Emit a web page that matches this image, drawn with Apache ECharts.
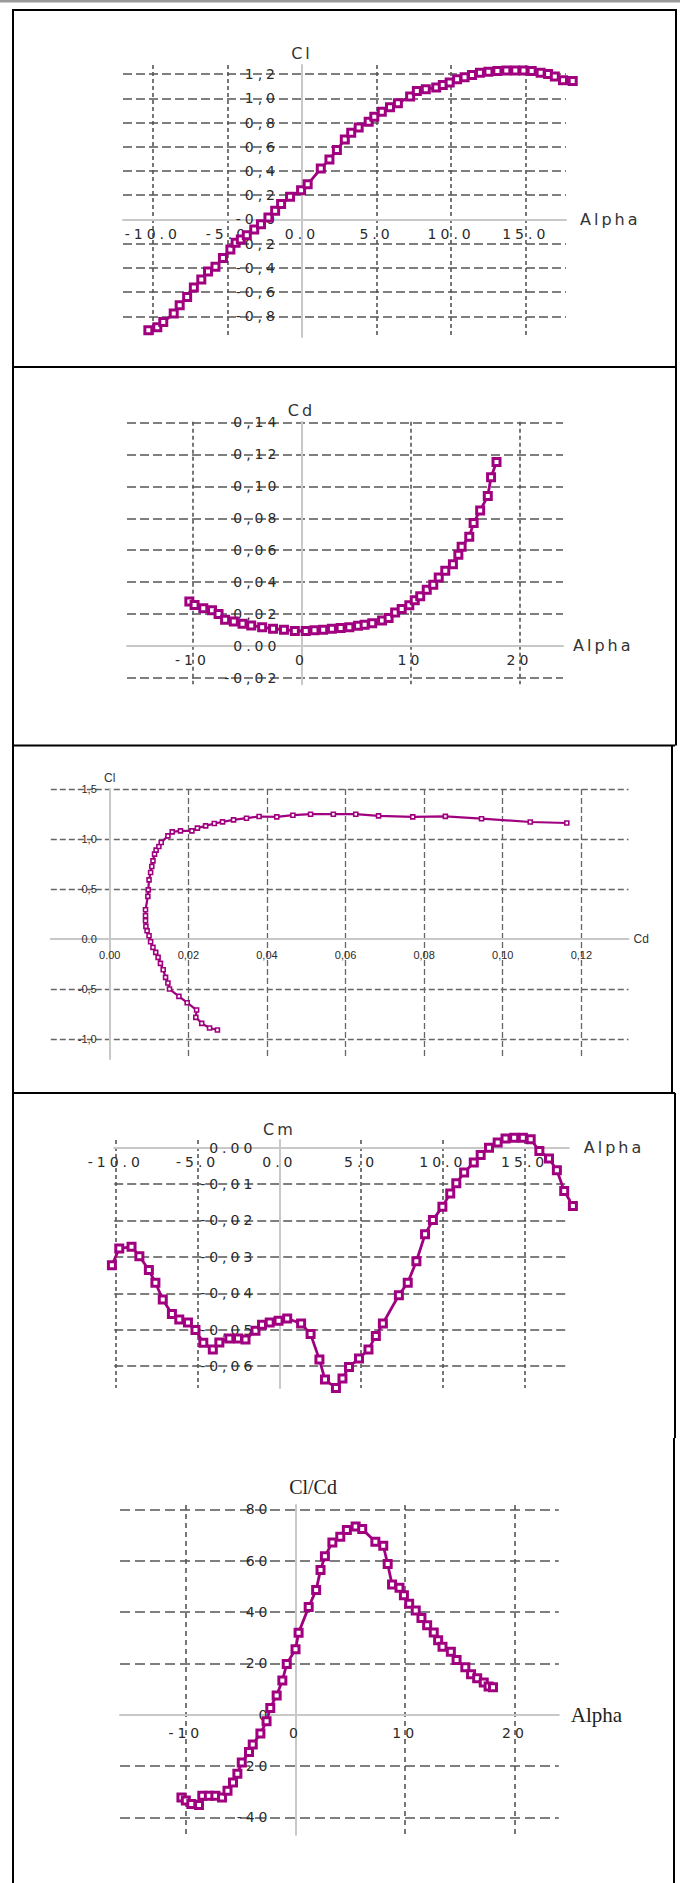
<!DOCTYPE html>
<html><head><meta charset="utf-8">
<script src="https://cdn.jsdelivr.net/npm/echarts@6/dist/echarts.min.js"></script>
<style>
html,body{margin:0;padding:0;background:#fff;}
#chart{width:680px;height:1883px;}
#chart text[style*="DejaVu Sans"]{letter-spacing:3px;}
#chart text[style*="14px"][style*="DejaVu Sans"]{letter-spacing:4px;}
</style></head><body><div id="chart"></div>
<script>
// ---- Panel 1: Cl vs Alpha ----
const clAlpha = [-10.3,-9.7,-9.3,-8.6,-8.2,-7.7,-7.25,-6.75,-6.3,-5.8,-5.3,-4.8,-4.45,-4.1,-3.7,-3.2,-2.75,-2.25,-1.8,-1.4,-0.8,-0.06,0.38,1.26,1.84,2.34,2.87,3.3,3.8,4.47,4.85,5.35,5.9,6.43,7.25,7.7,8.3,9.0,9.44,9.9,10.4,10.9,11.4,11.93,12.5,13.1,13.7,14.3,14.85,15.4,16.0,16.5,16.95,17.5,18.15];
const clValues = [-0.915,-0.89,-0.846,-0.777,-0.708,-0.64,-0.562,-0.496,-0.43,-0.39,-0.317,-0.248,-0.193,-0.165,-0.13,-0.083,-0.039,0.017,0.072,0.127,0.187,0.242,0.29,0.42,0.496,0.573,0.66,0.716,0.76,0.807,0.848,0.89,0.926,0.959,1.014,1.06,1.074,1.09,1.11,1.13,1.157,1.174,1.193,1.212,1.22,1.226,1.229,1.229,1.229,1.226,1.212,1.2,1.18,1.15,1.143];
// ---- Panel 2: Cd vs Alpha ----
const cdAlpha = [-10.28,-9.8,-9.0,-8.2,-7.6,-7.0,-6.2,-5.4,-4.6,-3.6,-2.6,-1.6,-0.6,0.4,1.2,2.0,2.8,3.6,4.4,5.2,5.8,6.5,7.4,8.0,8.6,9.2,9.9,10.4,10.9,11.5,12.1,12.6,13.2,13.9,14.4,14.7,15.4,15.8,16.4,17.1,17.4,17.9];
const cdValues = [0.0278,0.0257,0.0237,0.0224,0.0200,0.0165,0.0153,0.0139,0.0129,0.0118,0.0108,0.0102,0.0094,0.0094,0.0098,0.0102,0.0108,0.0112,0.0118,0.0127,0.0133,0.0143,0.0159,0.0176,0.0210,0.0231,0.0255,0.0286,0.0312,0.0353,0.0384,0.0429,0.0471,0.0512,0.0571,0.0622,0.0684,0.0771,0.0849,0.0939,0.1057,0.1153];
// ---- Panel 3: Cl vs Cd ----
const polarCd = [0.0274,0.0254,0.0234,0.0219,0.0221,0.0197,0.0176,0.0152,0.0148,0.0142,0.0136,0.0129,0.0123,0.0117,0.011,0.0104,0.01,0.0095,0.0092,0.0091,0.0091,0.0091,0.0097,0.0098,0.01,0.0104,0.0107,0.011,0.0114,0.0118,0.0125,0.0131,0.0148,0.0159,0.018,0.0209,0.0223,0.0244,0.0266,0.0287,0.0315,0.0348,0.038,0.0425,0.0466,0.0511,0.0569,0.0626,0.0684,0.0771,0.0854,0.0946,0.107,0.1163];
const polarCl = [-0.91,-0.89,-0.843,-0.783,-0.71,-0.637,-0.573,-0.5,-0.44,-0.383,-0.307,-0.243,-0.183,-0.133,-0.083,-0.027,0.033,0.083,0.127,0.183,0.233,0.293,0.427,0.493,0.593,0.667,0.727,0.783,0.85,0.89,0.927,0.967,1.033,1.073,1.083,1.083,1.11,1.133,1.157,1.173,1.193,1.21,1.227,1.223,1.24,1.25,1.25,1.25,1.233,1.223,1.228,1.205,1.172,1.162];
// ---- Panel 4: Cm vs Alpha ----
const cmAlpha = [-10.24,-9.79,-9.04,-8.56,-7.98,-7.58,-7.13,-6.57,-6.12,-5.59,-5.13,-4.65,-4.07,-3.67,-3.06,-2.53,-2.07,-1.46,-1.06,-0.59,-0.05,0.48,1.33,1.91,2.45,2.79,3.46,3.86,4.26,4.87,5.45,5.9,6.33,7.31,7.85,8.38,8.91,9.39,9.97,10.45,10.82,11.3,11.89,12.31,12.82,13.35,13.83,14.36,14.89,15.37,15.9,16.49,16.97,17.42,17.95];
const cmValues = [-0.0323,-0.0277,-0.0272,-0.0298,-0.0336,-0.0371,-0.0417,-0.0457,-0.0472,-0.048,-0.0501,-0.0536,-0.0554,-0.0535,-0.0524,-0.0524,-0.0527,-0.0503,-0.0486,-0.048,-0.0475,-0.0469,-0.0483,-0.0512,-0.0582,-0.0637,-0.066,-0.0634,-0.0602,-0.0579,-0.0554,-0.0517,-0.0483,-0.0405,-0.0371,-0.0312,-0.0238,-0.0199,-0.0162,-0.0126,-0.0098,-0.0068,-0.0041,-0.002,0.0,0.0014,0.0025,0.0027,0.0027,0.0023,-0.0009,-0.003,-0.0062,-0.0119,-0.016];
// ---- Panel 5: Cl/Cd vs Alpha ----
const ldAlpha = [-10.4,-10.0,-9.5,-8.8,-8.5,-7.9,-7.3,-6.7,-6.2,-5.7,-5.3,-4.9,-4.24,-3.9,-3.2,-2.64,-2.3,-1.72,-1.2,-0.8,0.0,0.28,1.2,1.88,2.28,2.68,3.36,4.08,4.68,5.48,6.08,7.28,8.0,8.4,8.8,9.48,9.88,10.36,10.96,11.48,12.0,12.6,13.0,13.4,14.16,14.68,15.48,16.0,16.56,17.16,17.6,18.0];
const ldValues = [-32.3,-33.5,-34.8,-35.2,-31.6,-31.6,-31.6,-32.3,-29.7,-26.5,-23.0,-18.7,-14.6,-11.6,-7.4,-2.6,2.6,7.5,13.3,19.7,25.5,31.9,41.9,48.6,56.4,61.7,67.1,69.3,72.0,73.3,72.3,67.4,65.8,58.7,50.7,49.4,46.5,43.2,40.6,37.7,34.8,32.0,29.0,26.5,24.5,21.3,18.5,15.7,14.2,12.5,11.0,10.7];

// ---- tick values ----
const p1XTicks = [-10, -5, 0, 5, 10, 15];
const p1YTicks = [-0.8, -0.6, -0.4, -0.2, 0, 0.2, 0.4, 0.6, 0.8, 1.0, 1.2];
const p2XTicks = [-10, 0, 10, 20];
const p2YTicks = [-0.02, 0, 0.02, 0.04, 0.06, 0.08, 0.10, 0.12, 0.14];
const p3XTicks = [0, 0.02, 0.04, 0.06, 0.08, 0.10, 0.12];
const p3YTicks = [-1.0, -0.5, 0, 0.5, 1.0, 1.5];
const p4XTicks = [-10, -5, 0, 5, 10, 15];
const p4YTicks = [-0.06, -0.05, -0.04, -0.03, -0.02, -0.01, 0];
const p5XTicks = [-10, 0, 10, 20];
const p5YTicks = [-40, -20, 0, 20, 40, 60, 80];

// ---- panel layout (grid boxes and axis extents) ----
const panels = [
  { box: { left: 123, top: 65, width: 443, height: 272 }, x: [-12, 17.7], y: [-0.97, 1.275] },
  { box: { left: 127, top: 421.7, width: 436, height: 262.6 }, x: [-16, 24], y: [-0.024, 0.1405] },
  { box: { left: 50.8, top: 789, width: 577.7, height: 270 }, x: [-0.015, 0.132], y: [-1.2, 1.502] },
  { box: { left: 114.2, top: 1140, width: 454.6, height: 248 }, x: [-10.1, 17.7], y: [-0.066, 0.0021] },
  { box: { left: 120, top: 1505, width: 438.8, height: 329.7 }, x: [-16, 24], y: [-46.8, 81.7] }
];

const PURPLE = '#a0007f';
const AXIS_GRAY = '#c8c8c8';
const noZero = a => a.filter(v => v !== 0);
const dotFmt = d => v => v.toFixed(d);
const commaFmt = (d, zero) => v => (v === 0 ? zero : v.toFixed(d).replace('.', ','));

// axis crossing at zero: offset the axis from the grid edge to the other axis' zero
function zeroOffset(p, dim) {
  if (dim === 'x') return -p.box.height * (0 - p.y[0]) / (p.y[1] - p.y[0]);
  return -p.box.width * (0 - p.x[0]) / (p.x[1] - p.x[0]);
}

function axis(dim, g, opt) {
  const p = panels[g];
  const ext = dim === 'x' ? p.x : p.y;
  return {
    type: 'value', gridIndex: g, min: ext[0], max: ext[1],
    position: dim === 'x' ? 'bottom' : 'left',
    offset: zeroOffset(p, dim),
    name: opt.name, nameLocation: 'end', nameGap: opt.nameGap,
    nameMoveOverlap: false,
    nameTextStyle: opt.nameStyle,
    axisLine: { show: true, onZero: false, lineStyle: { color: AXIS_GRAY, width: 2 } },
    axisTick: { show: false, customValues: noZero(opt.ticks) },
    axisLabel: { customValues: opt.ticks, formatter: opt.fmt, margin: opt.margin,
      fontFamily: opt.font || 'DejaVu Sans', fontSize: opt.fontSize || 14, color: '#2a2a2a' },
    splitLine: { show: true, lineStyle: opt.split }
  };
}
function series(i, xs, ys, size, bw, lw) {
  return {
    type: 'line', xAxisIndex: i, yAxisIndex: i,
    data: xs.map((x, k) => [x, ys[k]]),
    symbol: 'rect', symbolSize: size, showSymbol: true, clip: false,
    lineStyle: { color: PURPLE, width: lw },
    itemStyle: { color: '#ffffff', borderColor: PURPLE, borderWidth: bw },
    emphasis: { disabled: true }, silent: true, animation: false, z: 5
  };
}
const nameSans = (pad) => ({ fontFamily: 'DejaVu Sans', fontSize: 16, color: '#333', padding: pad });
const vDash = { color: '#555', width: 1.6, type: [4, 3] };
const hDash = { color: '#555', width: 1.6, type: [9, 4] };

const borders = [
  [13, 10, 676, 10], [13, 367, 676, 367], [13, 745.5, 675, 745.5], [13, 1093, 675, 1093],
  [13, 9, 13, 1883], [676, 9, 676, 745.5], [672, 745.5, 672, 1093], [675, 1093, 675, 1438], [674, 1438, 674, 1883]
];

const option = {
  animation: false,
  backgroundColor: '#ffffff',
  grid: panels.map(p => Object.assign({ containLabel: false, outerBoundsMode: 'none' }, p.box)),
  xAxis: [
    axis('x', 0, { name: 'Alpha', nameGap: 14, nameStyle: nameSans([0, 0, 35, 0]),
      ticks: p1XTicks, fmt: dotFmt(1), margin: 8, split: vDash }),
    axis('x', 1, { name: 'Alpha', nameGap: 10, nameStyle: nameSans([0, 0, 35, 0]),
      ticks: p2XTicks, fmt: dotFmt(0), margin: 7, split: vDash }),
    axis('x', 2, { name: 'Cd', nameGap: 5,
      nameStyle: { fontFamily: 'Liberation Sans', fontSize: 12, color: '#333', padding: [0, 0, 35, 0] },
      ticks: p3XTicks, fmt: commaFmt(2, '0.00'), margin: 10, font: 'Liberation Sans', fontSize: 11,
      split: { color: '#666', width: 1.3, type: [6, 3] } }),
    axis('x', 3, { name: 'Alpha', nameGap: 15, nameStyle: nameSans([0, 0, 32, 0]),
      ticks: p4XTicks, fmt: dotFmt(1), margin: 7, split: vDash }),
    axis('x', 4, { name: 'Alpha', nameGap: 12,
      nameStyle: { fontFamily: 'Liberation Serif', fontSize: 21, color: '#222', padding: [0, 0, 43, 0] },
      ticks: p5XTicks, fmt: dotFmt(0), margin: 11, split: { color: '#555', width: 1.6, type: [5, 4] } })
  ],
  yAxis: [
    axis('y', 0, { name: 'Cl', nameGap: 4, nameStyle: nameSans([0, 0, 0, 0]),
      ticks: p1YTicks, fmt: commaFmt(1, '-0.0'), margin: 23, split: hDash }),
    axis('y', 1, { name: 'Cd', nameGap: 3, nameStyle: nameSans([0, 0, 0, 0]),
      ticks: p2YTicks, fmt: commaFmt(2, '0.00'), margin: 21, split: hDash }),
    axis('y', 2, { name: 'Cl', nameGap: 5,
      nameStyle: { fontFamily: 'Liberation Sans', fontSize: 12, color: '#333' },
      ticks: p3YTicks, fmt: commaFmt(1, '0.0'), margin: 13, font: 'Liberation Sans', fontSize: 11,
      split: { color: '#666', width: 1.3, type: [6, 3] } }),
    axis('y', 3, { name: 'Cm', nameGap: 3, nameStyle: nameSans([0, 0, 0, 0]),
      ticks: p4YTicks, fmt: commaFmt(2, '0.00'), margin: 23, split: hDash }),
    axis('y', 4, { name: 'Cl/Cd', nameGap: 8,
      nameStyle: { fontFamily: 'Liberation Serif', fontSize: 20, color: '#222', padding: [0, 0, 0, 35] },
      ticks: p5YTicks, fmt: dotFmt(0), margin: 24, split: { color: '#555', width: 1.6, type: [10, 5] } })
  ],
  series: [
    series(0, clAlpha, clValues, 7, 3, 2.8),
    series(1, cdAlpha, cdValues, 7, 3, 2.8),
    series(2, polarCd, polarCl, 4, 1.6, 2.2),
    series(3, cmAlpha, cmValues, 7, 3, 2.8),
    series(4, ldAlpha, ldValues, 7, 3, 2.8)
  ],
  graphic: [
    { type: 'rect', silent: true, shape: { x: 0, y: 0, width: 680, height: 2.5 }, style: { fill: '#9a9a9a' } }
  ].concat(borders.map(b => ({
    type: 'line', silent: true, shape: { x1: b[0], y1: b[1], x2: b[2], y2: b[3] },
    style: { stroke: '#000', lineWidth: 2 }
  })))
};

const chart = echarts.init(document.getElementById('chart'), null, { renderer: 'svg', width: 680, height: 1883 });
chart.setOption(option);
</script></body></html>
